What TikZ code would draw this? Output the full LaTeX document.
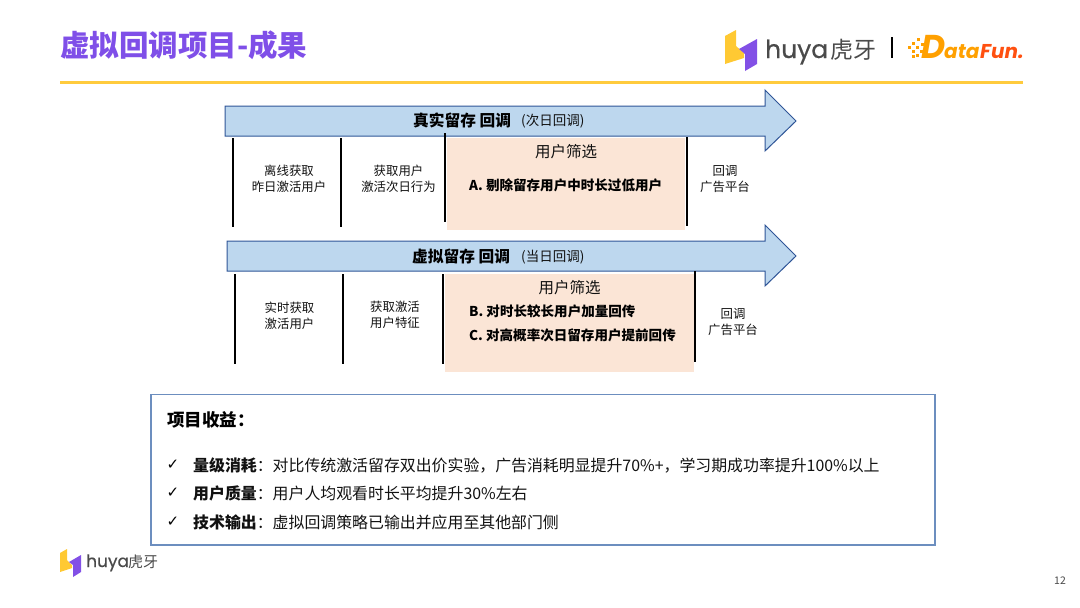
\documentclass[tikz,border=0pt]{standalone}
\usepackage{fontspec}
\setmainfont{Noto Sans CJK SC}
\newfontfamily\symfont{DejaVu Sans}
\newfontfamily\logofont[FakeBold=0.5]{Poppins}
\newfontfamily\dffont{Poppins}
\definecolor{arrowfill}{HTML}{BDD7EE}
\definecolor{arrowline}{HTML}{2F5597}
\definecolor{peach}{HTML}{FBE5D6}
\definecolor{boxline}{HTML}{6C8EBF}
\definecolor{titlepurple}{HTML}{7F4FE8}
\definecolor{rulegold}{HTML}{FFCB3D}
\definecolor{logodark}{HTML}{4A4A4A}
\definecolor{logoyellow}{HTML}{FFC933}
\definecolor{logopurple}{HTML}{8250E6}
\definecolor{dfl}{HTML}{FFA000}
\definecolor{dfr}{HTML}{FF5010}
\definecolor{bodytext}{HTML}{111111}
\tikzset{
  x=1pt,y=-1pt,
  flowarrow/.style={draw=arrowline,fill=arrowfill,line width=1pt,line join=miter},
  divider/.style={draw=black,line width=2pt},
  peachbox/.style={fill=peach,draw=none},
  steptext/.style={align=center,font=\fontsize{12.4}{16}\selectfont,text=bodytext,inner sep=0pt},
  filtertext/.style={font=\fontsize{15.5}{18}\selectfont,text=bodytext,inner sep=0pt},
  itemtext/.style={font=\bfseries\fontsize{13.55}{16}\selectfont,text=black,anchor=west,inner sep=0pt},
  gaintext/.style={font=\fontsize{15.9}{18}\selectfont,text=bodytext,anchor=west,inner sep=0pt},
  checktext/.style={font=\symfont\fontsize{15}{16}\selectfont,text=black,inner sep=0pt},
  subtext/.style={anchor=west,inner sep=0pt,font=\fontsize{13.5}{16}\selectfont,text=bodytext},
  headtext/.style={anchor=west,inner sep=0pt,font=\bfseries\fontsize{15.7}{18}\selectfont,text=black},
  logotext/.style={anchor=base west,inner sep=0pt,text=logodark},
}
\begin{document}
\begin{tikzpicture}
\useasboundingbox (0,0) rectangle (1080,608);
% title
\node[anchor=west,inner sep=0pt,font=\bfseries\fontsize{29.5}{32}\selectfont,text=titlepurple] (title) at (60,45) {虚拟回调项目-成果};
\draw[rulegold,line width=3pt] (60,82) -- (1023,82);
% header logo
\fill[logoyellow] (725,36) -- (736,30) -- (736,46) -- (744,53) -- (744,58) -- (725,64) -- cycle;
\fill[logopurple] (757,39) -- (757,64) -- (745,71) -- (745,54) -- (739,49) -- cycle;
\node[logotext,font=\logofont\fontsize{25}{28}\selectfont] (huya) at (765,58) {huya};
\node[logotext,font=\fontsize{23}{26}\selectfont] (huyacn) at (830,58) {虎牙};
\draw[black,line width=1.2pt] (892,37) -- (892,58);
\node[anchor=base west,inner sep=0pt,font=\dffont\bfseries\itshape\fontsize{33}{36}\selectfont,text=dfl] (dfd) at (921,58) {D};
\node[anchor=base west,inner sep=0pt,font=\dffont\bfseries\itshape\fontsize{20}{24}\selectfont,text=dfl] (dfa) at (944,58) {ata};
\node[anchor=base west,inner sep=0pt,font=\dffont\bfseries\itshape\fontsize{20}{24}\selectfont,text=dfr] (dfb) at (980,58) {Fun.};
\foreach \px/\py in {908/46,912/50,916/54,912/42,916/46,920/50,917/38,921/43,912/55}
  \fill[dfl] (\px,\py) rectangle ++(3,3);
% arrow 1
\fill[peachbox] (447,138) rectangle (685,230);
\draw[flowarrow] (225,106) -- (765,106) -- (765,90) -- (796,121) -- (765,151) -- (765,136) -- (225,136) -- cycle;
\draw[divider] (232.5,138) -- (232.5,227);
\draw[divider] (340.5,138) -- (340.5,227);
\draw[divider] (445,133) -- (445,222);
\draw[divider] (686.5,137) -- (686.5,226);
\node[headtext] (a1h) at (413,120.5) {真实留存 回调};
\node[subtext] (a1s) at (521,121) {(次日回调)};
\node[steptext] (a1a) at (289,178.5) {离线获取\\昨日激活用户};
\node[steptext] (a1b) at (398.5,178.5) {获取用户\\激活次日行为};
\node[filtertext] (a1f) at (566,152) {用户筛选};
\node[itemtext] (a1i) at (469,185.5) {A. 剔除留存用户中时长过低用户};
\node[steptext] (a1c) at (725,179) {回调\\广告平台};
% arrow 2
\fill[peachbox] (445,274) rectangle (694,372);
\draw[flowarrow] (227,241) -- (765,241) -- (765,225) -- (796,256) -- (765,286) -- (765,271) -- (227,271) -- cycle;
\draw[divider] (235,274) -- (235,364);
\draw[divider] (342.5,274) -- (342.5,364);
\draw[divider] (443,274) -- (443,364);
\draw[divider] (694.5,271) -- (694.5,362);
\node[headtext] (a2h) at (412,256) {虚拟留存 回调};
\node[subtext] (a2s) at (521,257) {(当日回调)};
\node[steptext] (a2a) at (289.5,316) {实时获取\\激活用户};
\node[steptext] (a2b) at (395,314.5) {获取激活\\用户特征};
\node[filtertext] (a2f) at (569.5,288) {用户筛选};
\node[itemtext] (a2i) at (469,311) {B. 对时长较长用户加量回传};
\node[itemtext] (a2j) at (469,335) {C. 对高概率次日留存用户提前回传};
\node[steptext] (a2c) at (733,322) {回调\\广告平台};
% benefit box
\draw[draw=boxline,line width=1.2pt] (151,394.5) rectangle (935,545);
\node[anchor=west,inner sep=0pt,font=\bfseries\fontsize{17.5}{20}\selectfont,text=black] (gain) at (167,420) {项目收益：};
\node[checktext] (c1) at (173,465) {✓};
\node[checktext] (c2) at (173,493) {✓};
\node[checktext] (c3) at (173,521.5) {✓};
\node[gaintext] (g1) at (193,465.5) {\textbf{量级消耗}：对比传统激活留存双出价实验，广告消耗明显提升70\%+，学习期成功率提升100\%以上};
\node[gaintext] (g2) at (193,493.5) {\textbf{用户质量}：用户人均观看时长平均提升30\%左右};
\node[gaintext] (g3) at (193,522) {\textbf{技术输出}：虚拟回调策略已输出并应用至其他部门侧};
% footer logo
\fill[logoyellow] (60,553) -- (67,549) -- (67,560) -- (72,565) -- (72,568) -- (60,572) -- cycle;
\fill[logopurple] (81,555) -- (81,572) -- (73,577) -- (73,565) -- (69,562) -- cycle;
\node[logotext,font=\logofont\fontsize{17}{20}\selectfont] (fh) at (86,567) {huya};
\node[logotext,font=\fontsize{15}{18}\selectfont] (fc) at (128,567) {虎牙};
\node[inner sep=0pt,font=\fontsize{10.5}{12}\selectfont,text=logodark] (pg) at (1060,581) {12};
\end{tikzpicture}
\end{document}
